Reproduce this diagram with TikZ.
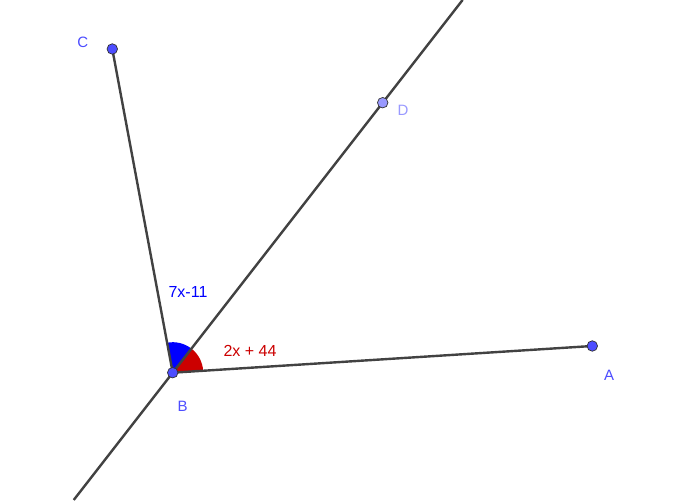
\documentclass[tikz,border=0pt]{standalone}
\usepackage{fontspec}
\setmainfont{Liberation Sans}
\definecolor{ptblue}{HTML}{4D4DFF}
\definecolor{ptlight}{HTML}{9999FF}
\definecolor{segcol}{HTML}{424242}
\definecolor{angred}{HTML}{CC0000}
\begin{document}
\begin{tikzpicture}[x=1pt,y=1pt,
  seg/.style={draw=segcol,line width=2.4pt},
  pt/.style={circle,draw=black!80,line width=0.7pt,fill=ptblue,inner sep=0pt,minimum size=10.5pt},
  ptl/.style={circle,draw=black!80,line width=0.7pt,fill=ptlight,inner sep=0pt,minimum size=10.5pt},
  lab/.style={text=ptblue,font=\fontsize{15}{17}\selectfont,inner sep=0pt},
  labl/.style={text=ptlight,font=\fontsize{15}{17}\selectfont,inner sep=0pt},
  anglab/.style={font=\fontsize{16}{19}\selectfont,inner sep=0pt}]
\useasboundingbox (0,0) rectangle (700,500);
\fill[white] (0,0) rectangle (700,500);
\coordinate (cB) at (172.7,127.3);
\coordinate (cA) at (592.3,154);
\coordinate (cC) at (112.3,451);
\coordinate (cD) at (382.7,397.3);
\coordinate (L1) at (73.7,0);
\coordinate (L2) at (462.6,500);
% angle sectors
\fill[angred] (cB) -- ++(3.64:30.5) arc[start angle=3.64,end angle=52.1,radius=30.5] -- cycle;
\fill[blue] (cB) -- ++(52.1:30.5) arc[start angle=52.1,end angle=100.57,radius=30.5] -- cycle;
% lines
\draw[seg] (L1) -- (L2);
\draw[seg] (cB) -- (cA);
\draw[seg] (cB) -- (cC);
% points
\node[pt] (A) at (cA) {};
\node[pt] (B) at (cB) {};
\node[pt] (C) at (cC) {};
\node[ptl] (D) at (cD) {};
% labels
\node[lab] (lA) at (609,125) {A};
\node[lab] (lB) at (182.7,94) {B};
\node[lab] (lC) at (82.7,457.3) {C};
\node[labl] (lD) at (403,390) {D};
\node[anglab,text=blue] (t1) at (188,208) {7x-11};
\node[anglab,text=angred] (t2) at (250,149) {2x + 44};
\end{tikzpicture}
\end{document}
